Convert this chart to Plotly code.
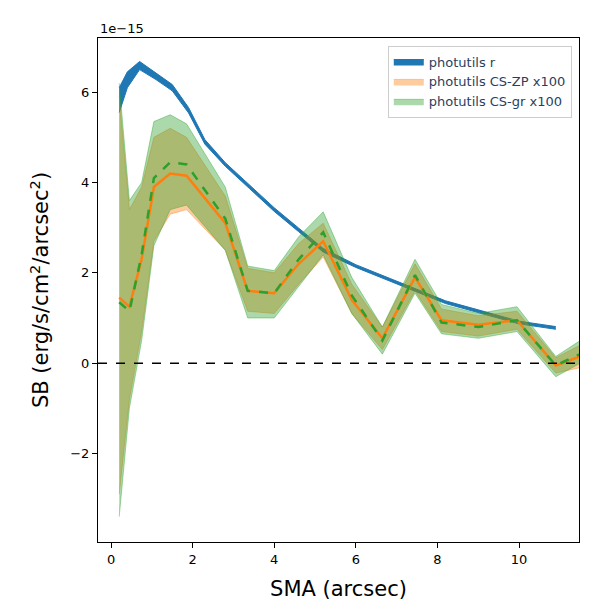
import plotly.graph_objects as go

# SB in units of 1e-15 erg/s/cm^2/arcsec^2
sma_r = [0.2, 0.4, 0.7, 1.1, 1.5, 1.9, 2.3, 2.8, 3.4, 4.0, 4.6, 5.2, 6.0, 6.7, 7.5, 8.2, 9.0, 10.0, 10.9]
r_hi = [6.1, 6.45, 6.68, 6.42, 6.17, 5.66, 4.95, 4.44, 3.94, 3.44, 2.99, 2.54, 2.18, 1.93, 1.63, 1.38, 1.18, 0.93, 0.81]
r_lo = [5.55, 6.1, 6.5, 6.28, 6.03, 5.54, 4.85, 4.36, 3.86, 3.36, 2.91, 2.46, 2.12, 1.87, 1.57, 1.32, 1.12, 0.87, 0.75]

sma = [0.2, 0.45, 0.75, 1.05, 1.45, 1.85, 2.8, 3.35, 4.0, 4.6, 5.2, 5.9, 6.65, 7.45, 8.1, 9.0, 9.95, 10.9, 11.5]
zp_mid = [1.45, 1.25, 2.3, 3.9, 4.2, 4.15, 3.1, 1.6, 1.55, 2.2, 2.7, 1.4, 0.55, 1.9, 0.95, 0.85, 0.95, -0.05, 0.15]
zp_hi = [5.9, 3.4, 3.9, 5.0, 5.2, 5.0, 3.7, 2.1, 2.0, 2.65, 3.1, 1.75, 0.8, 2.2, 1.2, 1.05, 1.15, 0.12, 0.4]
zp_lo = [-2.9, -0.8, 0.7, 2.7, 3.3, 3.4, 2.5, 1.15, 1.1, 1.75, 2.35, 1.1, 0.3, 1.6, 0.7, 0.6, 0.75, -0.22, -0.1]
gr_mid = [1.35, 1.15, 2.4, 4.1, 4.45, 4.4, 3.2, 1.6, 1.55, 2.3, 2.9, 1.5, 0.5, 1.95, 0.9, 0.8, 0.95, -0.05, 0.2]
gr_hi = [6.2, 3.6, 4.0, 5.35, 5.5, 5.3, 3.9, 2.15, 2.05, 2.8, 3.35, 1.9, 0.8, 2.3, 1.3, 1.1, 1.25, 0.15, 0.5]
gr_lo = [-3.4, -1.0, 0.5, 2.6, 3.4, 3.5, 2.5, 1.0, 1.0, 1.7, 2.4, 1.1, 0.2, 1.55, 0.65, 0.55, 0.7, -0.3, 0.0]

fig = go.Figure()

def band(x, lo, hi, fill, edge, name, show=True):
    fig.add_trace(go.Scatter(x=x, y=lo, mode="lines", line=dict(color=edge, width=1),
                             showlegend=False, hoverinfo="skip"))
    fig.add_trace(go.Scatter(x=x, y=hi, mode="lines", line=dict(color=edge, width=1),
                             fill="tonexty", fillcolor=fill, name=name, showlegend=show))

band(sma_r, r_lo, r_hi, "#1f77b4", "#1f77b4", "photutils r")
band(sma, zp_lo, zp_hi, "rgba(255,127,14,0.4)", "rgba(255,127,14,0.4)", "photutils CS-ZP x100")
band(sma, gr_lo, gr_hi, "rgba(44,160,44,0.4)", "rgba(44,160,44,0.4)", "photutils CS-gr x100")

fig.add_trace(go.Scatter(x=sma, y=zp_mid, mode="lines", line=dict(color="#ff7f0e", width=2.5), showlegend=False))
fig.add_trace(go.Scatter(x=sma, y=gr_mid, mode="lines", line=dict(color="#2ca02c", width=2.5, dash="dash"), showlegend=False))
fig.add_hline(y=0, line=dict(color="black", width=1.5, dash="dash"))

fig.add_annotation(text="1e\u221215", xref="paper", yref="paper", x=0, y=1.0,
                   xanchor="left", yanchor="bottom", showarrow=False, font=dict(size=13, color="black"))

axis = dict(showgrid=False, zeroline=False, showline=True, mirror=True, linecolor="black",
            ticks="outside", tickcolor="black", tickfont=dict(size=13, color="black"))
fig.update_xaxes(axis, range=[-0.32, 11.47], tickvals=[0, 2, 4, 6, 8, 10],
                 title=dict(text="SMA (arcsec)", font=dict(size=21, color="black")))
fig.update_yaxes(axis, range=[-3.96, 7.2], tickvals=[-2, 0, 2, 4, 6], ticktext=["\u22122", "0", "2", "4", "6"],
                 title=dict(text="SB (erg/s/cm<sup>2</sup>/arcsec<sup>2</sup>)", font=dict(size=21, color="black")))
fig.update_layout(width=600, height=600, plot_bgcolor="white", paper_bgcolor="white",
                  margin=dict(l=90, r=29, t=30, b=60), font=dict(family="DejaVu Sans"),
                  legend=dict(x=0.985, y=0.985, xanchor="right", yanchor="top", bordercolor="#ccc",
                              borderwidth=1, font=dict(size=13), traceorder="normal"))
fig.write_html("out.html")
